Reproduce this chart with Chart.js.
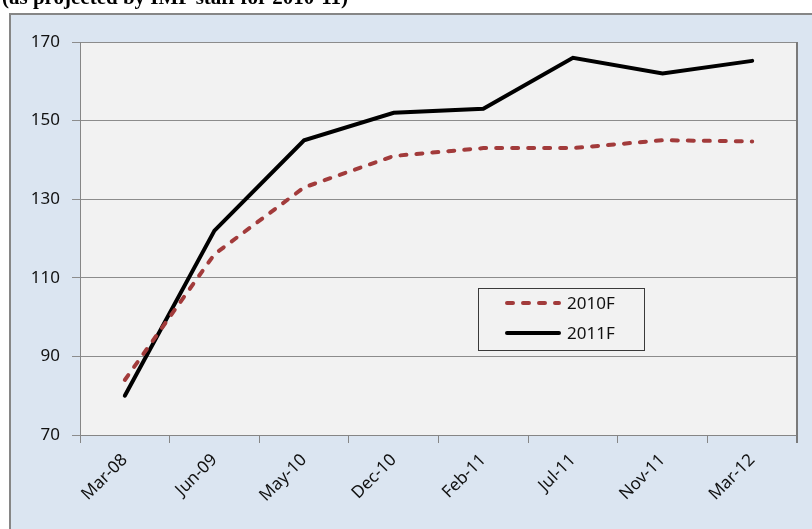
<!DOCTYPE html>
<html><head><meta charset="utf-8">
<script src="https://cdn.jsdelivr.net/npm/chart.js@4.4.1/dist/chart.umd.min.js"></script>
<style>
html,body{margin:0;padding:0;background:#fff;overflow:hidden;}
#wrap{position:relative;width:812px;height:529px;}
#title{position:absolute;left:2px;top:-15px;font:bold 21px "Liberation Serif","Times New Roman",serif;color:#000;white-space:nowrap;z-index:2;}
canvas{position:absolute;left:0;top:0;}
</style></head>
<body>
<div id="wrap">
<div id="title">(as projected by IMF staff for 2010-11)</div>
<canvas id="c" width="812" height="529"></canvas>
</div>
<script>
const categories = ["Mar-08","Jun-09","May-10","Dec-10","Feb-11","Jul-11","Nov-11","Mar-12"];
const series2010F = [84,116,133,141,143,143,145,144.7];
const series2011F = [80,122,145,152,153,166,162,165.2];
const yTicks = {min:70,max:170,step:20};

const frameBg = {
  id:'frameBg',
  beforeDraw(chart){
    const ctx = chart.ctx, a = chart.chartArea;
    ctx.save();
    ctx.fillStyle = '#ffffff';
    ctx.fillRect(0,0,chart.width,chart.height);
    ctx.fillStyle = '#dbe5f1';
    ctx.fillRect(10,13,chart.width,chart.height);
    ctx.strokeStyle = '#868686';
    ctx.lineWidth = 2;
    ctx.beginPath();
    ctx.moveTo(10,chart.height+5);ctx.lineTo(10,14);ctx.lineTo(chart.width+5,14);
    ctx.stroke();
    ctx.fillStyle = '#f2f2f2';
    ctx.fillRect(a.left,a.top,a.right-a.left,a.bottom-a.top);
    ctx.restore();
  },
  afterDraw(chart){
    const ctx = chart.ctx, a = chart.chartArea;
    ctx.save();
    ctx.strokeStyle = '#7a7a7a';
    ctx.lineWidth = 2;
    ctx.beginPath();
    ctx.moveTo(a.right, a.bottom+8); ctx.lineTo(a.right, a.top);
    ctx.stroke();
    // legend
    const lx = a.left + 398, ly = a.top + 246, lw = 166, lh = 62;
    ctx.fillStyle = '#f2f2f2';
    ctx.fillRect(lx,ly,lw,lh);
    ctx.strokeStyle = '#3a3a3a';
    ctx.lineWidth = 1;
    ctx.strokeRect(lx+0.5,ly+0.5,lw,lh);
    ctx.font = '17px "Noto Sans", sans-serif';
    ctx.textBaseline = 'middle';
    chart.data.datasets.forEach((ds,i)=>{
      const yy = ly + 15 + i*30;
      ctx.beginPath();
      ctx.strokeStyle = ds.borderColor;
      ctx.lineWidth = ds.borderWidth;
      ctx.lineCap = ds.borderCapStyle || 'butt';
      ctx.setLineDash(ds.borderDash || []);
      ctx.moveTo(lx+29, yy); ctx.lineTo(lx+81, yy);
      ctx.stroke();
      ctx.setLineDash([]);
      ctx.fillStyle = '#111';
      ctx.fillText(ds.label, lx+89, yy+1);
    });
    ctx.restore();
  }
};

new Chart(document.getElementById('c'), {
  type:'line',
  data:{
    labels:categories,
    datasets:[
      {label:'2010F', data:series2010F, borderColor:'#a23b3b', borderWidth:4, borderDash:[6,10], borderCapStyle:'round', pointRadius:0, tension:0, fill:false},
      {label:'2011F', data:series2011F, borderColor:'#000000', borderWidth:4, borderCapStyle:'round', pointRadius:0, tension:0, fill:false}
    ]
  },
  options:{
    responsive:false, animation:false, devicePixelRatio:1,
    layout:{padding:{left:0,top:42,right:15,bottom:0}},
    plugins:{legend:{display:false}, tooltip:{enabled:false}},
    scales:{
      x:{
        offset:true,
        grid:{offset:true, drawOnChartArea:false, drawTicks:true, tickLength:8, color:'#868686'},
        border:{color:'#868686', width:1},
        ticks:{maxRotation:45, minRotation:45, autoSkip:false, padding:7, color:'#111', font:{family:'"Noto Sans", sans-serif', size:17}},
        afterFit(s){ s.height = 94; }
      },
      y:{
        min:yTicks.min, max:yTicks.max,
        grid:{color:'#8c8c8c', tickLength:8, drawTicks:true},
        border:{color:'#868686', width:1},
        ticks:{stepSize:yTicks.step, padding:12, color:'#111', font:{family:'"Noto Sans", sans-serif', size:17}},
        afterFit(s){ s.width = 80; }
      }
    }
  },
  plugins:[frameBg]
});
</script>
</body></html>
